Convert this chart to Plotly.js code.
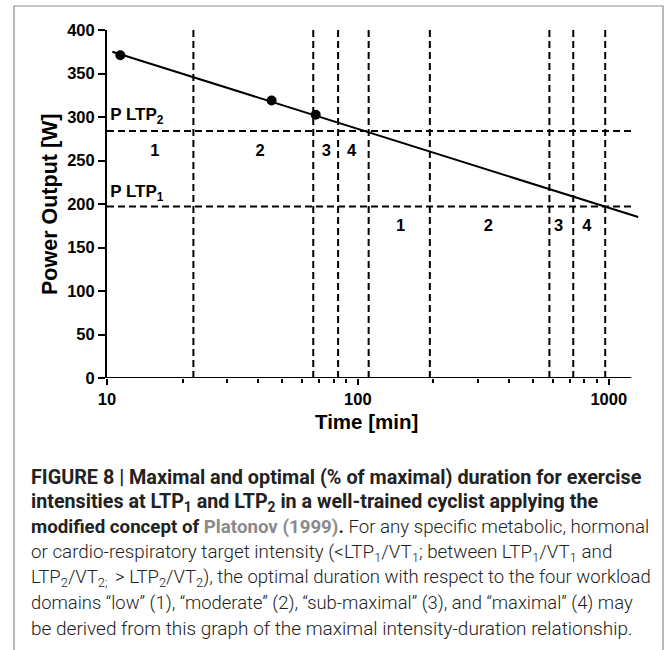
<!DOCTYPE html>
<html>
<head>
<meta charset="utf-8">
<script src="https://cdn.plot.ly/plotly-3.0.1.min.js"></script>
<style>html,body{margin:0;padding:0;background:#fff;}#chart{width:669px;height:650px;}</style>
</head>
<body>
<div id="chart"></div>
<script>
// ---- data ----
const lineTime = [10.5, 1310];
const linePower = [375, 185];
const pointTime = [11.3, 45.3, 67.9];
const pointPower = [371, 319, 302.5];
const ltpNames = ['P LTP<sub>1</sub>', 'P LTP<sub>2</sub>'];
const ltpPower = [197, 284];
const ltp2Bounds = [22.1, 66.4, 83.4, 110.4];
const ltp1Bounds = [193.6, 580, 722, 968];
const domainLabels = ['1', '2', '3', '4'];
const ltp2LabelTime = [15.5, 40.8, 74.8, 94.5];
const ltp1LabelTime = [148, 331, 631, 817];
const ltp2LabelPower = 260;
const ltp1LabelPower = 174;
const ltpNamePower = [213, 301];
const xTickVals = [10, 100, 1000];
const xMinorVals = [20, 30, 40, 50, 60, 70, 80, 90, 200, 300, 400, 500, 600, 700, 800, 900];
const yTickVals = [0, 50, 100, 150, 200, 250, 300, 350, 400];
const axisStart = 10, axisEnd = 1230;
const xTitle = 'Time [min]';
const yTitle = 'Power Output [W]';
const captionLines = [
  '<b>FIGURE 8 | Maximal and optimal (% of maximal) duration for exercise</b>',
  '<b>intensities at LTP<sub>1</sub> and LTP<sub>2</sub> in a well-trained cyclist applying the</b>',
  '<b>modified concept of </b><b><span style="color:#8a8a8a">Platonov (1999)</span>.</b> For any specific metabolic, hormonal',
  'or cardio-respiratory target intensity (&lt;LTP<sub>1</sub>/VT<sub>1</sub>; between LTP<sub>1</sub>/VT<sub>1</sub> and',
  'LTP<sub>2</sub>/VT<sub>2; </sub> &gt; LTP<sub>2</sub>/VT<sub>2</sub>), the optimal duration with respect to the four workload',
  'domains “low” (1), “moderate” (2), “sub-maximal” (3), and “maximal” (4) may',
  'be derived from this graph of the maximal intensity-duration relationship.'
];
const captionSizes = [19.8, 19.7, 18.7, 18.8, 18.5, 18.4, 19.0];

// ---- layout geometry (pixels) ----
const W = 669, H = 650;
const L = 107, R = 639, T = 30, B = 378;
const px = v => (v - L) / (R - L);
const py = v => (B - v) / (B - T);
const FONT = 'Liberation Sans, Arial, sans-serif';

const traces = [];
// vertical dashed boundaries
const vx = [], vy = [];
ltp2Bounds.concat(ltp1Bounds).forEach(v => { vx.push(v, v, null); vy.push(0, 400, null); });
traces.push({x: vx, y: vy, mode: 'lines', line: {color: '#000', width: 2, dash: '7px,4px'}, hoverinfo: 'skip', showlegend: false});
// horizontal dashed thresholds
const hx = [], hy = [];
ltpPower.forEach(p => { hx.push(axisStart, axisEnd, null); hy.push(p, p, null); });
traces.push({x: hx, y: hy, mode: 'lines', line: {color: '#000', width: 2, dash: '7px,4px'}, hoverinfo: 'skip', showlegend: false});
// x axis line
traces.push({x: [axisStart, axisEnd], y: [0, 0], mode: 'lines', line: {color: '#000', width: 2}, hoverinfo: 'skip', showlegend: false, cliponaxis: false});
// regression line
traces.push({x: lineTime, y: linePower, mode: 'lines', line: {color: '#000', width: 2}, showlegend: false});
// data points
traces.push({x: pointTime, y: pointPower, mode: 'markers', marker: {color: '#000', size: 10}, showlegend: false});
// domain number labels
traces.push({x: ltp2LabelTime.concat(ltp1LabelTime), y: ltp2LabelTime.map(() => ltp2LabelPower).concat(ltp1LabelTime.map(() => ltp1LabelPower)),
  text: domainLabels.concat(domainLabels).map(s => '<b>' + s + '</b>'), mode: 'text', textfont: {family: FONT, size: 16.5, color: '#000'}, showlegend: false, hoverinfo: 'skip'});
// P LTP labels
traces.push({x: [10.3, 10.3], y: ltpNamePower, text: ltpNames.map(s => '<b>' + s + '</b>'), mode: 'text', textposition: 'middle right',
  textfont: {family: FONT, size: 17, color: '#000'}, showlegend: false, hoverinfo: 'skip', cliponaxis: false});

const annotations = captionLines.map((t, i) => ({
  xref: 'paper', yref: 'paper', x: px(29), y: py(477 + 25.2 * i), xanchor: 'left', yanchor: 'middle',
  text: t, showarrow: false, align: 'left',
  font: {family: 'Roboto, Liberation Sans, sans-serif', size: captionSizes[i], color: '#222', weight: 300}
}));
annotations.push({xref: 'paper', yref: 'paper', x: px(366.5), y: py(421), xanchor: 'center', yanchor: 'middle',
  text: '<b>' + xTitle + '</b>', showarrow: false, font: {family: FONT, size: 20.5, color: '#000'}});
annotations.push({xref: 'paper', yref: 'paper', x: px(50), y: py(204), xanchor: 'center', yanchor: 'middle', textangle: -90,
  text: '<b>' + yTitle + '</b>', showarrow: false, font: {family: FONT, size: 21.5, color: '#000'}});

const layout = {
  width: W, height: H,
  margin: {l: L, r: W - R, t: T, b: H - B, pad: 0},
  paper_bgcolor: '#fff', plot_bgcolor: '#fff',
  showlegend: false,
  xaxis: {
    type: 'log', range: [Math.log10(10), Math.log10(1320)],
    tickvals: xTickVals, ticktext: xTickVals.map(String),
    ticks: 'outside', ticklen: 6, tickwidth: 2, tickcolor: '#000',
    minor: {tickvals: xMinorVals, ticks: 'outside', ticklen: 4, tickwidth: 2, tickcolor: '#000', showgrid: false},
    showgrid: false, zeroline: false, showline: false,
    tickfont: {family: FONT, size: 16.5, color: '#000', weight: 'bold'}
  },
  yaxis: {
    range: [0, 400], tickvals: yTickVals,
    ticks: 'outside', ticklen: 7, tickwidth: 2, tickcolor: '#000',
    showgrid: false, zeroline: false, showline: true, linewidth: 2, linecolor: '#000',
    tickfont: {family: FONT, size: 16.5, color: '#000', weight: 'bold'}
  },
  shapes: [{type: 'rect', xref: 'paper', yref: 'paper', x0: px(14), x1: px(663), y0: py(700), y1: py(6), line: {color: '#8c8c8c', width: 1.2}, fillcolor: 'rgba(0,0,0,0)', layer: 'below'}],
  annotations: annotations
};

Plotly.newPlot('chart', traces, layout, {displayModeBar: false, staticPlot: true});
</script>
</body>
</html>
